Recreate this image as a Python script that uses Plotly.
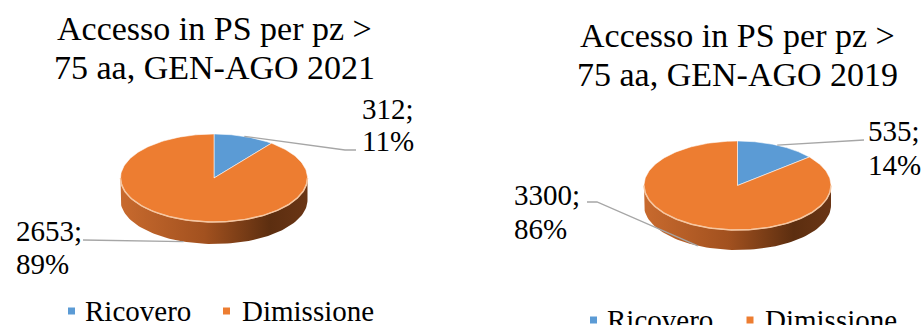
import numpy as np
import plotly.graph_objects as go

categories = ["Ricovero", "Dimissione"]
colors = ["#5B9BD5", "#ED7D31"]
values_2021 = [312, 2653]
values_2019 = [535, 3300]
title_2021 = ["Accesso in PS per pz >", "75 aa, GEN-AGO 2021"]
title_2019 = ["Accesso in PS per pz >", "75 aa, GEN-AGO 2019"]

FONT = "'Liberation Serif', 'Times New Roman', 'DejaVu Serif', serif"
side_scale = [[0, "#C86A2E"], [0.45, "#A2511F"], [0.8, "#5C2E10"], [1, "#6A3515"]]

fig = go.Figure()
annotations = []


def pt(cx, cy, rx, ry, deg):
    t = np.radians(deg)
    return cx + rx * np.sin(t), cy - ry * np.cos(t)


def pie3d(values, cx, cy, rx, ry, depth, title, title_y, labels_pos, leader_pts):
    total = sum(values)
    start = 0.0
    mids = []
    for v, col in zip(values, colors):
        span = 360.0 * v / total
        end = start + span
        mids.append(start + span / 2)
        a0, a1 = max(start, 90), min(end, 270)
        if a1 > a0:
            th = np.linspace(a0, a1, 80)
            xs, ys = pt(cx, cy, rx, ry, th)
            sx = np.concatenate([xs, xs[::-1]])
            sy = np.concatenate([ys, ys[::-1] + depth])
            fig.add_trace(go.Scatter(x=sx, y=sy, fill="toself", mode="lines",
                                     line=dict(width=0, color=col),
                                     fillgradient=dict(type="horizontal", colorscale=side_scale),
                                     hoverinfo="skip", showlegend=False))
        start = end
    start = 0.0
    for v, col in zip(values, colors):
        span = 360.0 * v / total
        th = np.linspace(start, start + span, 200)
        xs, ys = pt(cx, cy, rx, ry, th)
        fx = np.concatenate([[cx], xs, [cx]])
        fy = np.concatenate([[cy], ys, [cy]])
        fig.add_trace(go.Scatter(x=fx, y=fy, fill="toself", mode="lines", fillcolor=col,
                                 line=dict(width=1, color="rgba(255,255,255,0.55)"),
                                 hoverinfo="skip", showlegend=False))
        start += span
    th = np.linspace(90, 270, 120)
    xs, ys = pt(cx, cy, rx, ry, th)
    fig.add_trace(go.Scatter(x=xs, y=ys, mode="lines", line=dict(width=1.5, color="#F6C6A0"),
                             hoverinfo="skip", showlegend=False))
    for i, line in enumerate(title):
        annotations.append(dict(x=cx, y=title_y[i], text=line, showarrow=False, xanchor="center",
                                yanchor="middle", font=dict(family=FONT, size=34, color="#000")))
    for i, v in enumerate(values):
        pct = round(100 * v / total)
        (lx, ly1, ly2, anchor) = labels_pos[i]
        annotations.append(dict(x=lx, y=ly1, text=f"{v};", showarrow=False, xanchor=anchor,
                                yanchor="middle", font=dict(family=FONT, size=29, color="#000")))
        annotations.append(dict(x=lx, y=ly2, text=f"{pct}%", showarrow=False, xanchor=anchor,
                                yanchor="middle", font=dict(family=FONT, size=29, color="#000")))
        m = mids[i]
        ex, ey = pt(cx, cy, rx, ry, m)
        if 90 < m < 270:
            ey = ey + depth
        lxs = [ex] + [p[0] for p in leader_pts[i]]
        lys = [ey] + [p[1] for p in leader_pts[i]]
        fig.add_trace(go.Scatter(x=lxs, y=lys, mode="lines", line=dict(width=1.3, color="#A6A6A6"),
                                 hoverinfo="skip", showlegend=False))


pie3d(values_2021, 214, 178, 93.5, 44, 22, title_2021, [28, 67],
      [(360, 109, 141, "left"), (14, 231, 264, "left")],
      [[(345, 150), (356, 150)], [(83, 240)]])
pie3d(values_2019, 737.5, 185.5, 93.5, 44.5, 20, title_2019, [35, 74],
      [(866, 131, 165, "left"), (512, 195, 229, "left")],
      [[(864, 140)], [(597, 202), (587, 202)]])


def legend(xs_sq, xs_txt, y):
    for i, cat in enumerate(categories):
        fig.add_trace(go.Scatter(x=[xs_sq[i]], y=[y], mode="markers",
                                 marker=dict(symbol="square", size=7, color=colors[i]),
                                 hoverinfo="skip", showlegend=False))
        annotations.append(dict(x=xs_txt[i], y=y, text=cat, showarrow=False, xanchor="left",
                                yanchor="middle", font=dict(family=FONT, size=29, color="#000")))


legend([71.5, 226.5], [83, 240], 311)
legend([593.5, 750], [605, 763], 320)

fig.update_layout(
    width=923, height=325, margin=dict(l=0, r=0, t=0, b=0),
    paper_bgcolor="white", plot_bgcolor="white",
    xaxis=dict(range=[0, 923], visible=False, fixedrange=True),
    yaxis=dict(range=[325, 0], visible=False, fixedrange=True),
    annotations=annotations, showlegend=False,
)
fig.write_html("out.html")
